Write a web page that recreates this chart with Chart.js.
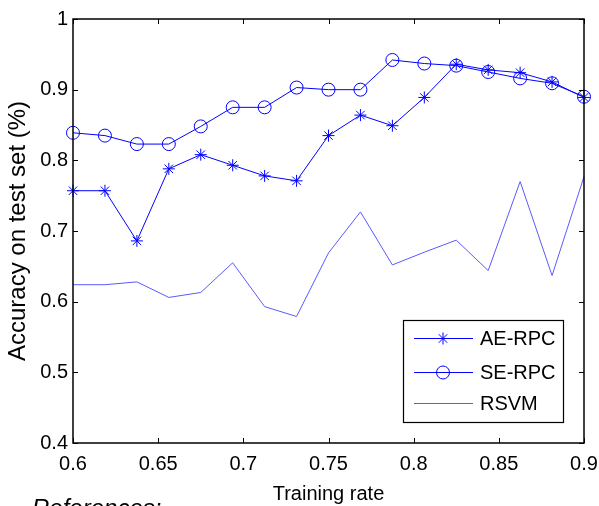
<!DOCTYPE html>
<html>
<head>
<meta charset="utf-8">
<script src="https://cdn.jsdelivr.net/npm/chart.js@4.4.0/dist/chart.umd.min.js"></script>
<style>
    html, body { margin: 0; padding: 0; background: #fff; overflow: hidden; }
    #wrap { position: relative; width: 599px; height: 506px; overflow: hidden; }
    #ref { position: absolute; left: 32px; top: 494px; font: italic 24px 'Liberation Sans', Arial, sans-serif; color: #000; }
</style>
</head>
<body>
<div id="wrap">
    <canvas id="chart" width="599" height="506"></canvas>
    <div id="ref">References:</div>
</div>
<script>
// training rate (x) og de tre serier
const trainingRate = [0.6, 0.61875, 0.6375, 0.65625, 0.675, 0.69375, 0.7125, 0.73125, 0.75,
    0.76875, 0.7875, 0.80625, 0.825, 0.84375, 0.8625, 0.88125, 0.9];
const aeRpc = [0.757, 0.757, 0.686, 0.788, 0.808, 0.793, 0.778, 0.771, 0.835,
    0.864, 0.849, 0.889, 0.936, 0.928, 0.924, 0.911, 0.889];
const seRpc = [0.839, 0.835, 0.823, 0.823, 0.848, 0.875, 0.875, 0.903, 0.900,
    0.900, 0.942, 0.937, 0.934, 0.925, 0.916, 0.909, 0.890];
const rsvm = [0.624, 0.624, 0.628, 0.606, 0.613, 0.655, 0.593, 0.579, 0.669,
    0.727, 0.652, 0.670, 0.687, 0.644, 0.770, 0.637, 0.777];

const xTicks = [0.6, 0.65, 0.7, 0.75, 0.8, 0.85, 0.9];
const xTickLabels = ['0.6', '0.65', '0.7', '0.75', '0.8', '0.85', '0.9'];
const yTicks = [0.4, 0.5, 0.6, 0.7, 0.8, 0.9, 1];
const yTickLabels = ['0.4', '0.5', '0.6', '0.7', '0.8', '0.9', '1'];

const seriesNames = ['AE-RPC', 'SE-RPC', 'RSVM'];

const sans = "'Liberation Sans', Arial, sans-serif";
const blue = 'rgb(0,0,255)';
const lightBlue = 'rgb(90,90,255)';

function toPoints(ys) {
    return ys.map((y, i) => ({ x: trainingRate[i], y: y }));
}

// boks med ticks indad (matlab stil) + legend inde i plottet
const boxPlugin = {
    id: 'box',
    afterDraw(c) {
        const ctx = c.ctx;
        const a = c.chartArea;
        const xs = c.scales.x, ys = c.scales.y;
        ctx.save();
        ctx.strokeStyle = '#000';
        ctx.lineWidth = 1.5;
        ctx.strokeRect(a.left, a.top, a.right - a.left, a.bottom - a.top);
        ctx.lineWidth = 1;
        ctx.beginPath();
        xTicks.forEach(v => {
            const px = Math.round(xs.getPixelForValue(v)) + 0.5;
            ctx.moveTo(px, a.bottom); ctx.lineTo(px, a.bottom - 5);
            ctx.moveTo(px, a.top); ctx.lineTo(px, a.top + 5);
        });
        yTicks.forEach(v => {
            const py = Math.round(ys.getPixelForValue(v)) + 0.5;
            ctx.moveTo(a.left, py); ctx.lineTo(a.left + 5, py);
            ctx.moveTo(a.right, py); ctx.lineTo(a.right - 5, py);
        });
        ctx.stroke();

        // legend
        const bw = 160, bh = 102;
        const bx = a.right - 21 - bw, by = a.bottom - 21 - bh;
        ctx.fillStyle = '#fff';
        ctx.fillRect(bx, by, bw, bh);
        ctx.strokeStyle = '#000';
        ctx.lineWidth = 1.2;
        ctx.strokeRect(bx + 0.5, by + 0.5, bw, bh);
        const rows = [18, 52, 83];
        c.data.datasets.forEach((ds, i) => {
            const ry = by + rows[i];
            ctx.strokeStyle = ds.borderColor;
            ctx.lineWidth = 1;
            ctx.beginPath();
            ctx.moveTo(bx + 11, ry + 0.5); ctx.lineTo(bx + 70, ry + 0.5);
            ctx.stroke();
            if (ds.pointStyle && ds.pointRadius > 0) {
                ctx.fillStyle = 'rgba(0,0,0,0)';
                Chart.helpers.drawPoint(ctx, {
                    pointStyle: ds.pointStyle, radius: ds.pointRadius, borderWidth: 1, rotation: 0
                }, bx + 40, ry + 0.5);
            }
            ctx.fillStyle = '#000';
            ctx.font = '20px ' + sans;
            ctx.textBaseline = 'middle';
            ctx.fillText(ds.label, bx + 77, ry + 1);
        });
        ctx.restore();
    }
};

let chart = new Chart(document.getElementById('chart').getContext('2d'), {
    type: 'line',
    data: {
        datasets: [
            {
                label: seriesNames[0],
                data: toPoints(aeRpc),
                borderColor: blue,
                backgroundColor: 'rgba(0,0,0,0)',
                borderWidth: 1,
                pointStyle: 'star',
                pointRadius: 6,
                pointBorderWidth: 1,
                clip: false
            },
            {
                label: seriesNames[1],
                data: toPoints(seRpc),
                borderColor: blue,
                backgroundColor: 'rgba(0,0,0,0)',
                borderWidth: 1,
                pointStyle: 'circle',
                pointRadius: 6.5,
                pointBorderWidth: 1,
                clip: false
            },
            {
                label: seriesNames[2],
                data: toPoints(rsvm),
                borderColor: lightBlue,
                backgroundColor: 'rgba(0,0,0,0)',
                borderWidth: 1,
                pointRadius: 0,
                clip: false
            }
        ]
    },
    options: {
        responsive: false,
        animation: false,
        layout: { padding: { left: 0, right: 0, top: 19, bottom: 0 } },
        plugins: {
            legend: { display: false },
            tooltip: { enabled: false }
        },
        scales: {
            x: {
                type: 'linear',
                min: 0.6,
                max: 0.9,
                afterBuildTicks: s => { s.ticks = xTicks.map(v => ({ value: v })); },
                afterFit: s => { s.height = 63; s.paddingRight = 15; },
                grid: { display: false, drawTicks: false },
                border: { display: false },
                ticks: {
                    padding: 9,
                    color: '#000',
                    font: { family: sans, size: 20 },
                    maxRotation: 0,
                    callback: v => xTickLabels[xTicks.findIndex(t => Math.abs(t - v) < 1e-9)]
                },
                title: {
                    display: true,
                    text: 'Training rate',
                    color: '#000',
                    font: { family: sans, size: 20 },
                    padding: { top: 2, bottom: 0 }
                }
            },
            y: {
                min: 0.4,
                max: 1,
                afterBuildTicks: s => { s.ticks = yTicks.map(v => ({ value: v })); },
                afterFit: s => { s.width = 73; },
                grid: { display: false, drawTicks: false },
                border: { display: false },
                ticks: {
                    padding: 5,
                    color: '#000',
                    font: { family: sans, size: 20 },
                    callback: v => yTickLabels[yTicks.findIndex(t => Math.abs(t - v) < 1e-9)]
                },
                title: {
                    display: true,
                    text: 'Accuracy on test set (%)',
                    color: '#000',
                    font: { family: sans, size: 24 },
                    padding: { top: 4, bottom: 0 }
                }
            }
        }
    },
    plugins: [boxPlugin]
});
</script>
</body>
</html>
